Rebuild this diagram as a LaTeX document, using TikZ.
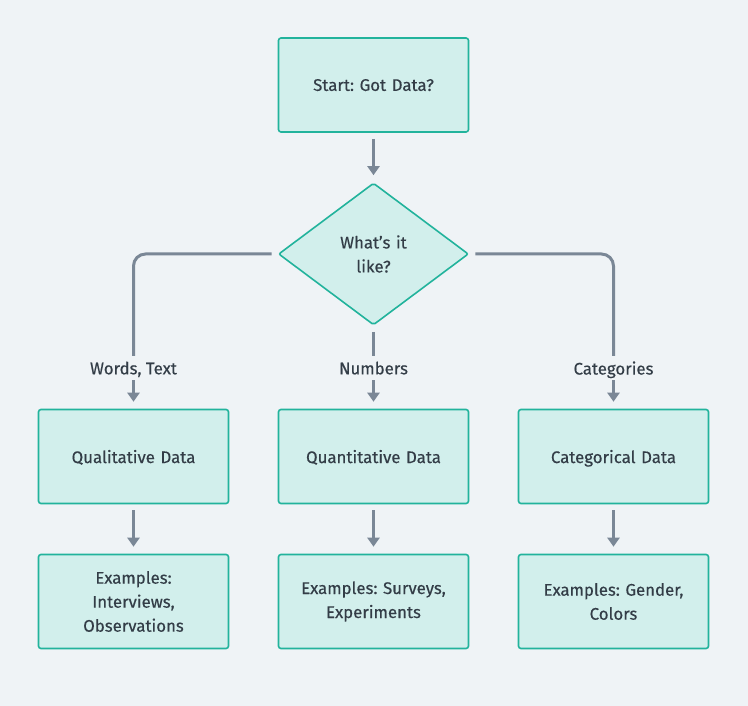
\documentclass[tikz,border=0pt]{standalone}
\usepackage{fontspec}
\setmainfont{Fira Sans}[FakeBold=0.4]
\frenchspacing
\usetikzlibrary{arrows.meta,shapes.geometric}
\definecolor{bgc}{HTML}{EFF3F6}
\definecolor{boxfill}{HTML}{D2EFEC}
\definecolor{boxline}{HTML}{22B39C}
\definecolor{arrc}{HTML}{7A8796}
\definecolor{txtc}{HTML}{333D47}
\begin{document}
\begin{tikzpicture}[x=1pt,y=-1pt,
  every node/.style={text=txtc,font=\fontsize{16.8}{24}\selectfont},
  one/.style={text depth=0pt},
  boxn/.style={draw=boxline,fill=boxfill,line width=1.6pt,rounded corners=2.5pt,minimum width=190pt,minimum height=94pt,align=center,text width=180pt},
  dia/.style={draw=boxline,fill=boxfill,line width=1.6pt,diamond,minimum width=190pt,minimum height=142pt,inner sep=0pt,align=center,text width=74pt,rounded corners=2pt},
  lbl/.style={inner sep=0pt,minimum height=24pt,text depth=0pt},
  conn/.style={draw=arrc,line width=3pt},
  arr/.style={conn,-{Triangle[width=12pt,length=9pt]},shorten >=7pt,shorten <=6pt}
]
\fill[bgc] (0,0) rectangle (748,706);
\node[boxn,one] (start) at (373.5,85) {Start: Got Data?};
\node[dia] (d) at (373.5,254) {What's it\\like?};
\node[boxn,one] (qual) at (133.5,456.5) {Qualitative Data};
\node[boxn,one] (quan) at (373.5,456.5) {Quantitative Data};
\node[boxn,one] (cat) at (613.5,456.5) {Categorical Data};
\node[boxn] (ex1) at (133.5,601.5) {Examples:\\Interviews,\\Observations};
\node[boxn] (ex2) at (373.5,601.5) {Examples: Surveys,\\Experiments};
\node[boxn] (ex3) at (613.5,601.5) {Examples: Gender,\\Colors};
\node[lbl] (l1) at (133.5,368) {Words, Text};
\node[lbl] (l2) at (373.5,368) {Numbers};
\node[lbl] (l3) at (613.5,368) {Categories};
\draw[arr] (start) -- (d);
\draw[conn,rounded corners=12pt,shorten <=6pt] (d.west) -| (l1.north);
\draw[conn,shorten <=6pt] (d.south) -- (l2.north);
\draw[conn,rounded corners=12pt,shorten <=6pt] (d.east) -| (l3.north);
\draw[arr,shorten <=0pt] (l1.south) -- (qual.north);
\draw[arr,shorten <=0pt] (l2.south) -- (quan.north);
\draw[arr,shorten <=0pt] (l3.south) -- (cat.north);
\draw[arr] (qual) -- (ex1);
\draw[arr] (quan) -- (ex2);
\draw[arr] (cat) -- (ex3);
\end{tikzpicture}
\end{document}
